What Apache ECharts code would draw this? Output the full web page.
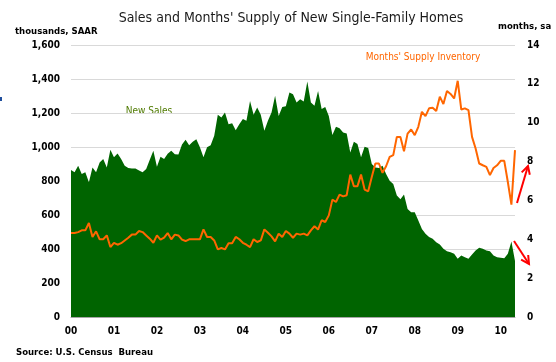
<!DOCTYPE html>
<html>
<head>
<meta charset="utf-8">
<script src="https://cdn.jsdelivr.net/npm/echarts@6/dist/echarts.min.js"></script>
<style>
html,body{margin:0;padding:0;background:#fff;}
#chart{width:556px;height:362px;}
</style>
</head>
<body>
<div id="chart"></div>
<script>
// ---- data (Jan 2000 .. May 2010, monthly) ----
const yearLabels = ['00','01','02','03','04','05','06','07','08','09','10'];
const monthLabels = ['01','02','03','04','05','06','07','08','09','10','11','12'];

const newSales = [
  865, 851, 890, 841, 851, 792, 880, 851, 909, 929, 880, 984,
  939, 962, 929, 890, 876, 874, 874, 862, 851, 870, 925, 978,
  884, 943, 929, 960, 978, 958, 956, 1015, 1043, 1011, 1031, 1046,
  998, 939, 998, 1011, 1066, 1189, 1174, 1203, 1134, 1140, 1099, 1134,
  1164, 1154, 1271, 1189, 1232, 1189, 1095, 1154, 1203, 1301, 1183, 1236,
  1240, 1320, 1310, 1262, 1281, 1267, 1385, 1262, 1242, 1330, 1223, 1236,
  1183, 1070, 1119, 1111, 1086, 1080, 968, 1031, 1017, 939, 1001, 994,
  900, 880, 876, 890, 841, 802, 782, 715, 692, 720, 636, 616,
  616, 567, 518, 489, 470, 460, 440, 426, 401, 387, 381, 372,
  342, 362, 352, 342, 368, 391, 407, 401, 391, 387, 362, 352,
  348, 345, 372, 444, 330
];

const monthsSupply = [
  4.32, 4.32, 4.37, 4.46, 4.46, 4.84, 4.12, 4.41, 4.00, 4.00, 4.20, 3.60,
  3.82, 3.72, 3.80, 3.94, 4.08, 4.24, 4.24, 4.43, 4.37, 4.20, 4.03, 3.82,
  4.20, 3.98, 4.08, 4.32, 4.00, 4.24, 4.20, 3.98, 3.91, 4.00, 4.00, 4.00,
  4.00, 4.51, 4.12, 4.12, 3.94, 3.48, 3.55, 3.48, 3.80, 3.80, 4.12, 4.00,
  3.82, 3.72, 3.60, 4.00, 3.86, 3.94, 4.51, 4.34, 4.15, 3.89, 4.29, 4.12,
  4.43, 4.29, 4.08, 4.29, 4.24, 4.29, 4.20, 4.46, 4.67, 4.50, 4.98, 4.89,
  5.23, 6.04, 5.92, 6.30, 6.21, 6.27, 7.33, 6.73, 6.73, 7.33, 6.56, 6.47,
  7.21, 7.90, 7.90, 7.42, 7.76, 8.24, 8.33, 9.27, 9.27, 8.53, 9.44, 9.65,
  9.36, 9.79, 10.56, 10.34, 10.74, 10.77, 10.60, 11.34, 10.96, 11.63, 11.48, 11.25,
  12.16, 10.68, 10.74, 10.65, 9.27, 8.67, 7.90, 7.81, 7.73, 7.30, 7.67, 7.81,
  8.04, 8.04, 6.95, 5.78, 8.59
];

const leftTicks = [0, 200, 400, 600, 800, 1000, 1200, 1400, 1600];
const rightTicks = [0, 2, 4, 6, 8, 10, 12, 14];

// categories "yy-mm"
const categories = [];
for (const y of yearLabels) for (const m of monthLabels) {
  if (categories.length < newSales.length) categories.push(y + '-' + m);
}

const FONT = "'DejaVu Sans Condensed', 'DejaVu Sans', sans-serif";
const chart = echarts.init(document.getElementById('chart'), null, {renderer: 'canvas'});

function arrow(x1, y1, x2, y2) {
  const dx = x2 - x1, dy = y2 - y1, L = Math.hypot(dx, dy);
  const bx = -dx / L, by = -dy / L, len = 9, a = 28 * Math.PI / 180;
  const c = Math.cos(a), s = Math.sin(a);
  const w1 = [x2 + len * (bx * c - by * s), y2 + len * (bx * s + by * c)];
  const w2 = [x2 + len * (bx * c + by * s), y2 + len * (-bx * s + by * c)];
  const st = {stroke: '#ff0000', lineWidth: 2, fill: null};
  return [
    {type: 'line', shape: {x1, y1, x2, y2}, style: st},
    {type: 'polyline', shape: {points: [w1, [x2, y2], w2]}, style: st}
  ];
}

chart.setOption({
  animation: false,
  backgroundColor: '#ffffff',
  title: {
    text: "Sales and Months' Supply of New Single-Family Homes",
    left: 286, top: 6, textAlign: 'center',
    textStyle: {fontFamily: FONT, fontSize: 14, fontWeight: 'normal', color: '#1a1a1a'}
  },
  grid: {left: 71, right: 41, top: 45, bottom: 45, containLabel: false},
  xAxis: {
    type: 'category',
    data: categories,
    boundaryGap: false,
    axisLine: {show: true, lineStyle: {color: '#a6a6a6'}},
    axisTick: {show: false},
    axisLabel: {
      interval: 11,
      margin: 9,
      formatter: v => v.slice(0, 2),
      fontFamily: FONT, fontSize: 10, fontWeight: 'bold', color: '#000'
    },
    splitLine: {show: false}
  },
  yAxis: [
    {
      type: 'value', min: leftTicks[0], max: leftTicks[leftTicks.length - 1], interval: 200,
      position: 'left',
      axisLine: {show: false}, axisTick: {show: false},
      axisLabel: {margin: 11, fontFamily: FONT, fontSize: 10, fontWeight: 'bold', color: '#000',
        formatter: v => v.toLocaleString('en-US')},
      splitLine: {show: true, lineStyle: {color: '#d9d9d9', width: 1}}
    },
    {
      type: 'value', min: rightTicks[0], max: rightTicks[rightTicks.length - 1], interval: 2,
      position: 'right',
      axisLine: {show: false}, axisTick: {show: false},
      axisLabel: {margin: 12, fontFamily: FONT, fontSize: 10, fontWeight: 'bold', color: '#000'},
      splitLine: {show: false}
    }
  ],
  series: [
    {
      name: 'New Sales', type: 'line', yAxisIndex: 0, data: newSales,
      symbol: 'none', lineStyle: {width: 0}, areaStyle: {color: '#006400', opacity: 1},
      itemStyle: {color: '#006400'}, z: 2
    },
    {
      name: "Months' Supply Inventory", type: 'line', yAxisIndex: 1, data: monthsSupply,
      symbol: 'none', lineStyle: {width: 2, color: '#ff6600'}, itemStyle: {color: '#ff6600'}, z: 3
    }
  ],
  graphic: [
    {type: 'text', left: 15, top: 27, style: {text: 'thousands, SAAR', font: "bold 9.5px " + FONT, fill: '#000'}},
    {type: 'text', left: 498, top: 22, style: {text: 'months, sa', font: "bold 9.5px " + FONT, fill: '#000'}},
    {type: 'text', x: 149, y: 111, style: {text: 'New Sales', font: "10px " + FONT, fill: '#4f7a00', align: 'center', verticalAlign: 'middle'}},
    {type: 'text', x: 423, y: 57, style: {text: "Months' Supply Inventory", font: "10px " + FONT, fill: '#ff6600', align: 'center', verticalAlign: 'middle'}},
    {type: 'text', left: 16, top: 348, style: {text: 'Source: U.S. Census  Bureau', font: "bold 9.5px " + FONT, fill: '#000'}},
    {type: 'rect', shape: {x: 0, y: 97, width: 2, height: 4}, style: {fill: '#1f4e9c'}},
    ...arrow(517, 203, 528, 166),
    ...arrow(514, 241, 529, 264)
  ]
});
</script>
</body>
</html>
